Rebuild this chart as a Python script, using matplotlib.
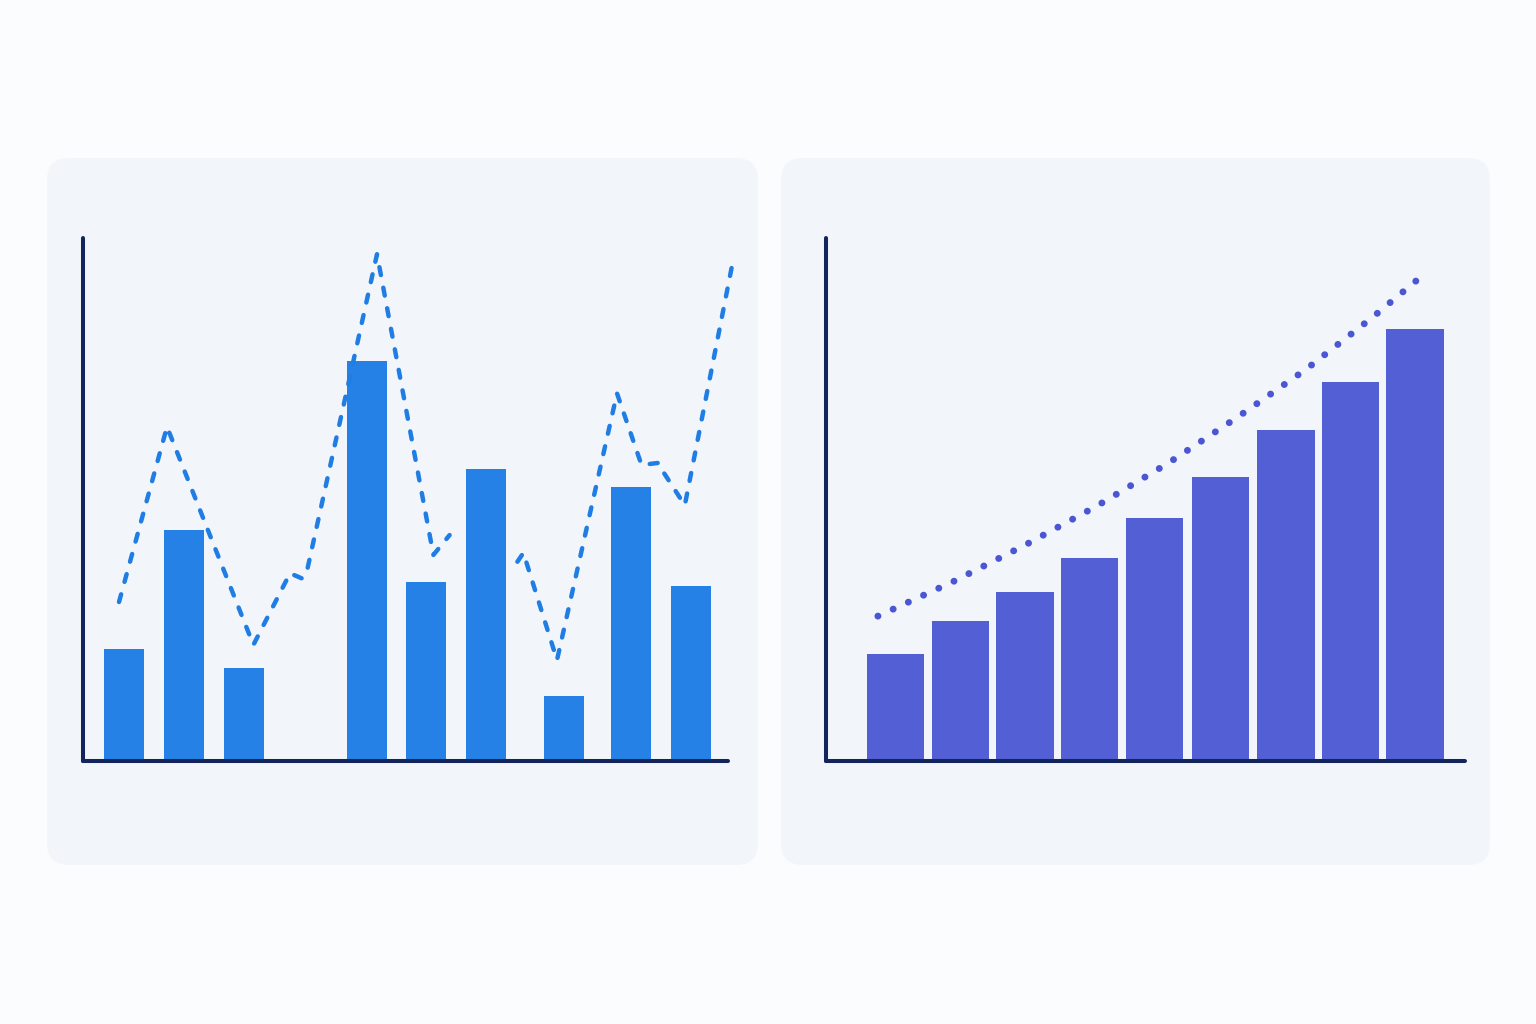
import numpy as np
import matplotlib
matplotlib.use("Agg")
import matplotlib.pyplot as plt
from matplotlib.patches import FancyBboxPatch

# --- left panel: irregular bars + dashed trend line ---
left_bar_x = [0.68, 1.69, 2.68, 4.73, 5.72, 6.72, 8.01, 9.13, 10.14]
left_bar_vals = [21.4, 44.2, 17.8, 76.5, 34.2, 55.8, 12.4, 52.4, 33.5]

# dashed line (nan = break in the line)
left_line_x = [0.60, 1.40, 2.84, 3.45, 3.65, 3.73, 4.90, 5.84, 6.11, np.nan,
               7.24, 7.34, 7.90, 8.90, 9.27, 9.31, 9.59, 9.63, 10.03, 10.81]
left_line_y = [30.4, 63.9, 22.2, 35.9, 34.9, 36.2, 96.9, 39.4, 43.2, np.nan,
               38.1, 39.8, 19.3, 70.3, 57.9, 56.6, 57.0, 56.0, 48.9, 94.3]

# --- right panel: growing bars + dotted trend line ---
right_bar_x = [1.07, 2.07, 3.07, 4.06, 5.06, 6.08, 7.09, 8.08, 9.08]
right_bar_vals = [20.5, 26.7, 32.4, 38.9, 46.4, 54.3, 63.2, 72.4, 82.6]

right_line_x = [0.80, 1.96, 3.07, 4.18, 5.28, 6.35, 7.40, 8.42, 9.22]
right_line_y = [27.7, 34.3, 41.3, 48.8, 57.0, 65.8, 74.9, 84.8, 93.1]

W, H = 1536, 1024
BG = "#fbfcfd"
PANEL = "#f2f6fb"
AXIS = "#13255a"
BLUE = "#2581e6"
INDIGO = "#535fd4"

fig = plt.figure(figsize=(W / 100, H / 100), dpi=100, facecolor=BG)

# background layer in pixel coordinates for the rounded cards
bg = fig.add_axes([0, 0, 1, 1], zorder=0)
bg.set_xlim(0, W)
bg.set_ylim(H, 0)
bg.axis("off")
for x0, x1 in [(47, 758), (781, 1490)]:
    card = FancyBboxPatch((x0, 158), x1 - x0, 865 - 158,
                          boxstyle="round,pad=0,rounding_size=22",
                          facecolor=PANEL, edgecolor="none")
    bg.add_patch(card)


def px_axes(left, top, right, bottom):
    ax = fig.add_axes([left / W, 1 - bottom / H, (right - left) / W, (bottom - top) / H],
                      zorder=1)
    ax.patch.set_alpha(0)
    ax.set_xticks([])
    ax.set_yticks([])
    for s in ["top", "right"]:
        ax.spines[s].set_visible(False)
    for s in ["left", "bottom"]:
        ax.spines[s].set_color(AXIS)
        ax.spines[s].set_linewidth(2.9)
        ax.spines[s].set_capstyle("round")
    return ax


# left chart
ax1 = px_axes(83, 238, 743, 761)
ax1.set_xlim(0, 11.0)
ax1.set_ylim(0, 100)
ax1.spines["left"].set_bounds(0, 100)
ax1.spines["bottom"].set_bounds(0, 10.75)
ax1.bar(left_bar_x, left_bar_vals, width=0.667, color=BLUE, zorder=2)
ax1.plot(left_line_x, left_line_y, color="#1f7de4", lw=3.2,
         linestyle=(0, (1.8, 2.9)), dash_capstyle="round",
         dash_joinstyle="round", clip_on=False, zorder=3)

# right chart
ax2 = px_axes(826, 238, 1480, 761)
ax2.set_xlim(0, 10.08)
ax2.set_ylim(0, 100)
ax2.spines["left"].set_bounds(0, 100)
ax2.spines["bottom"].set_bounds(0, 9.85)
ax2.bar(right_bar_x, right_bar_vals, width=0.885, color=INDIGO, zorder=2)
ax2.plot(right_line_x, right_line_y, color="#4b56d2", lw=5,
         linestyle=(0, (0.01, 2.4)), dash_capstyle="round",
         clip_on=False, zorder=3)

fig.savefig("out.png", dpi=100, facecolor=BG)
